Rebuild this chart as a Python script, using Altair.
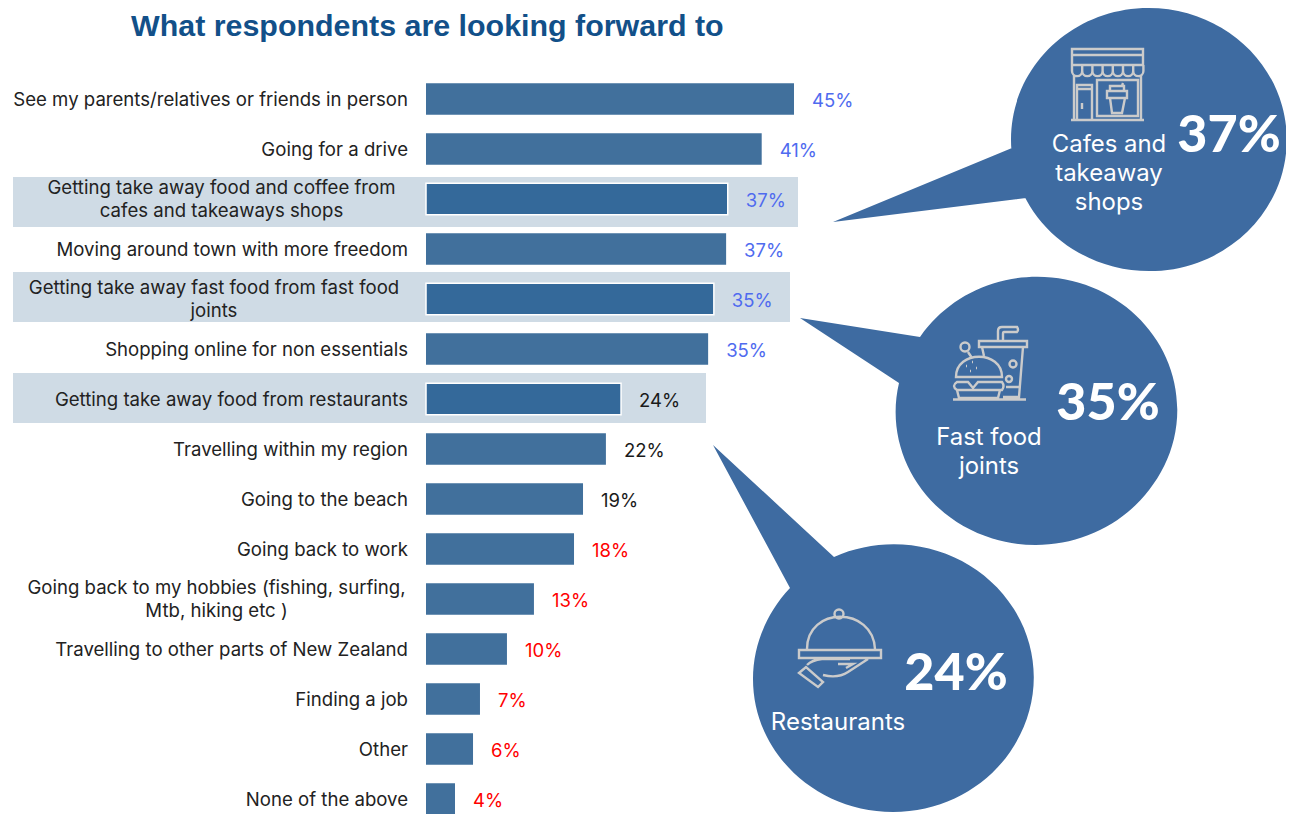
import altair as alt
import pandas as pd

# ---- data ----
categories = [
    "See my parents/relatives or friends in person",
    "Going for a drive",
    "Getting take away food and coffee from cafes and takeaways shops",
    "Moving around town with more freedom",
    "Getting take away fast food from fast food joints",
    "Shopping online for non essentials",
    "Getting take away food from restaurants",
    "Travelling within my region",
    "Going to the beach",
    "Going back to work",
    "Going back to my hobbies (fishing, surfing, Mtb, hiking etc  )",
    "Travelling to other parts of New Zealand",
    "Finding a job",
    "Other",
    "None of the above",
]
values = [45.0, 41.05, 36.9, 36.7, 35.2, 34.5, 23.85, 22.0, 19.2, 18.1, 13.2, 9.9, 6.6, 5.75, 3.55]
labels = ["45%", "41%", "37%", "37%", "35%", "35%", "24%", "22%", "19%", "18%", "13%", "10%", "7%", "6%", "4%"]
tiers = ["high"] * 6 + ["mid"] * 3 + ["low"] * 6
highlighted = [False, False, True, False, True, False, True] + [False] * 8
wrapped = {
    categories[2]: ["Getting take away food and coffee from", "cafes and takeaways shops"],
    categories[4]: ["Getting take away fast food from fast food", "joints"],
    categories[10]: ["Going back to my hobbies (fishing, surfing,", "Mtb, hiking etc  )"],
}

FONT = "Inter"
BLUE = "#3E6BA1"
GRAY = "#CBCBCB"

df = pd.DataFrame({"cat": categories, "val": values, "label": labels, "tier": tiers, "hl": highlighted})
df["single"] = [c if c not in wrapped else "" for c in categories]

W, H = 1278, 806
X = alt.X("val:Q", axis=None, scale=alt.Scale(domain=[0, 45], range=[418, 786]))
Y = alt.Y("cat:N", axis=None, sort=categories,
          scale=alt.Scale(domain=categories, range=[66, 816], paddingInner=0.37, paddingOuter=0.185))
one = pd.DataFrame({"a": [0]})


def px(x, y):
    return {"x": alt.value(x - 8), "y": alt.value(y - 8)}


def band(x0, x1, y0, y1):
    return alt.Chart(one).mark_rect(color="#CFDBE5").encode(
        x=alt.value(x0 - 8), x2=alt.value(x1 - 8), y=alt.value(y0 - 8), y2=alt.value(y1 - 8))


def txt(s, x, y, size, weight="normal", color="white", align="center", font=FONT, line=None):
    kw = {"lineHeight": line} if line else {}
    return alt.Chart(one).mark_text(text=s, font=font, fontSize=size, fontWeight=weight, color=color,
                                    align=align, baseline="middle", **kw).encode(**px(x, y))


def shape(path, fill=None, stroke=None, sw=2.4):
    kw = dict(shape=path, size=4, opacity=1)
    if fill:
        m = alt.Chart(one).mark_point(filled=True, fill=fill, stroke=None, **kw)
    else:
        m = alt.Chart(one).mark_point(filled=False, stroke=stroke, strokeWidth=sw, **kw)
    return m.encode(x=alt.value(-8), y=alt.value(-8))


def bubble(cx, cy, start, tip, end, rx=140, ry=133):
    return (f"M{start[0]},{start[1]}L{tip[0]},{tip[1]}L{end[0]},{end[1]}"
            f"A{rx},{ry} 0 1,0 {start[0]},{start[1]}Z M{cx-rx},{cy}"
            f"A{rx},{ry} 0 1,0 {cx+rx},{cy}A{rx},{ry} 0 1,0 {cx-rx},{cy}Z")


def circ(cx, cy, r):
    return f"M{cx-r},{cy}A{r},{r} 0 1,0 {cx+r},{cy}A{r},{r} 0 1,0 {cx-r},{cy}Z"


scallop = "V71a5,5 0 0,0 10.2,0V65"
store_icon = (
    "M1072,49H1143V65H1072Z M1072,55H1143 "
    "M1072,65" + scallop * 7 + " "
    "M1074,76V119 M1141,76V119 M1071,120H1144 "
    "M1077,119V85H1092V119 M1078,89H1091 M1082,103V109 "
    "M1097,116V80H1138V116Z "
    "M1107,91H1127V98H1107Z M1110,91V86H1124V91 M1122,86L1123,83 "
    "M1110,98L1112,113H1122L1125,98Z"
)
burger_icon = (
    "M979,341H1027V347H979Z M998,341V331Q998,327 1002,327H1017Q1019,330 1017,332H1004Q1003,332 1003,334V341 "
    "M982,347L984,356 M1023,347L1019,397H1003 M1006,387H1021 "
    + circ(1013, 364, 3.5) + " " + circ(1009, 379, 3) + " " + circ(965, 347, 4.5) + " "
    "M968,352L972,358 "
    "M956,377C956,350 1002,350 1002,377Z "
    "M966,366h1 M972,362h1 M976,368h1 M970,371h1 "
    "M957,382H968L973,388L978,382H1002Q1005,386 1002,390H957Q951,386 957,382Z "
    "M957,390L959,398H998L1000,390 M953,399.5H1026"
)
cloche_icon = (
    circ(839, 614, 4.5) + " "
    "M807,649C807,606 873,606 875,649 "
    "M799,650H881V658H799Z "
    "M799,673L806,667L823,682L818,687Z "
    "M807,665Q812,660 822,659H850 M823,675C835,678 842,676 848,672L868,659 "
    "M838,664H853L846,668"
)

LABEL_SIZE = 18.6
layers = [
    band(13, 798, 177, 227),
    band(13, 790, 272, 322),
    band(13, 706, 373, 423),
    alt.Chart(df).mark_bar().encode(
        x=X, x2=alt.datum(0), y=Y,
        color=alt.Color("hl:N", legend=None, scale=alt.Scale(domain=[False, True], range=["#41709C", "#34699A"])),
        stroke=alt.Color("hl:N", legend=None, scale=alt.Scale(domain=[False, True], range=["#41709C", "#FFFFFF"])),
        strokeWidth=alt.StrokeWidth("hl:N", legend=None, scale=alt.Scale(domain=[False, True], range=[0, 1.5])),
    ),
    alt.Chart(df).mark_text(font=FONT, fontSize=18.5, align="left", baseline="middle", dx=18, dy=2).encode(
        x=X, y=Y, text="label:N",
        color=alt.Color("tier:N", legend=None,
                        scale=alt.Scale(domain=["high", "mid", "low"], range=["#4F6BEF", "#1A1A1A", "#FF0000"])),
    ),
    alt.Chart(df[df.single != ""]).mark_text(font=FONT, fontSize=LABEL_SIZE, align="right", baseline="middle",
                                            dy=1, color="#222222").encode(x=alt.value(400), y=Y, text="single:N"),
]
for key, centre in [(categories[2], 221.5), (categories[4], 214), (categories[10], 216.5)]:
    row = df[df.cat == key]
    layers.append(alt.Chart(row).mark_text(text=wrapped[key], font=FONT, fontSize=LABEL_SIZE, align="center",
                                           baseline="middle", lineHeight=23, dy=-11,
                                           color="#222222").encode(x=alt.value(centre - 8), y=Y))

layers += [
    txt("What respondents are looking forward to", 131, 26.5, 30.4, "bold", "#125089", "left", "Liberation Sans"),
    shape(bubble(1148.5, 139.4, (1012, 148), (833, 222), (1026, 198), rx=137.5, ry=131.4), fill=BLUE),
    shape(bubble(1037.3, 409.7, (920, 337), (800, 318), (899, 383)), fill=BLUE),
    shape(bubble(893, 679, (834, 557), (713, 445), (790, 588)), fill=BLUE),
    shape(store_icon, stroke=GRAY),
    shape(burger_icon, stroke=GRAY),
    shape(cloche_icon, stroke=GRAY),
    txt(["Cafes and", "takeaway", "shops"], 1109, 145, 23.9, line=29),
    txt(["Fast food", "joints"], 989, 438, 23.9, line=29),
    txt("Restaurants", 838, 723, 24),
    txt("37%", 1229, 136, 52, 900, font="Lato"),
    txt("35%", 1108, 404, 52, 900, font="Lato"),
    txt("24%", 956, 674, 52, 900, font="Lato"),
]

chart = alt.layer(*layers).resolve_scale(color="independent", stroke="independent").properties(
    width=W, height=H, padding=0, autosize=alt.AutoSizeParams(type="none"), background="white"
).configure_view(stroke=None)

chart.save("out.html", embed_options={"renderer": "svg", "actions": False})
